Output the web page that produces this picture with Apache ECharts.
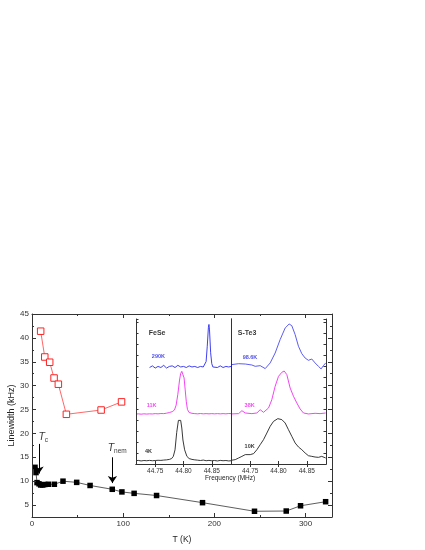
<!DOCTYPE html>
<html>
<head>
<meta charset="utf-8">
<script src="https://cdn.jsdelivr.net/npm/echarts@6/dist/echarts.min.js"></script>
<style>html,body{margin:0;padding:0;background:#fff}#c{width:425px;height:550px}</style>
</head>
<body>
<div id="c"></div>
<script>
// ---- main panel data ----
const blackT  = [3.3, 4.4, 5.5, 7.7, 9.5, 11.8, 14, 17.9, 24.5, 34, 49, 63.7, 88, 98.6, 112, 136.6, 187, 244, 278.8, 294.5, 322];
const blackLW = [12.9, 11.8, 9.7, 9.45, 9.2, 9.2, 9.3, 9.35, 9.35, 10.0, 9.75, 9.1, 8.3, 7.75, 7.45, 7.0, 5.5, 3.7, 3.75, 4.85, 5.7];
const redT    = [9.5, 14, 19.4, 24.2, 28.9, 37.7, 75.8, 98.2];
const redLW   = [41.4, 36.0, 34.9, 31.6, 30.3, 24.0, 24.9, 26.6];
const yMajor  = [5, 10, 15, 20, 25, 30, 35, 40, 45];
const yMinor  = [2.5, 7.5, 12.5, 17.5, 22.5, 27.5, 32.5, 37.5, 42.5];
const xTicks  = [0, 100, 200, 300];

// ---- inset spectra (frequency MHz, intensity arb.) ----
const fese290F = [44.740,44.745,44.750,44.755,44.760,44.765,44.770,44.775,44.780,44.785,44.790,44.795,44.800,44.805,44.810,44.815,44.820,44.825,44.830,44.835,44.838,44.840,44.842,44.844,44.845,44.846,44.848,44.850,44.852,44.855,44.860,44.865,44.870,44.875,44.880,44.884];
const fese290V = [8.85,9.0,8.8,8.95,8.85,9.05,8.8,8.95,9.0,8.85,9.05,8.9,8.95,8.85,9.0,8.9,8.95,8.85,8.95,8.9,9.0,9.4,10.8,12.5,12.8,12.3,10.2,9.2,8.9,8.95,8.85,9.0,8.85,8.95,8.9,8.95];
const fese11F  = [44.716,44.720,44.725,44.730,44.735,44.740,44.745,44.750,44.755,44.760,44.765,44.770,44.775,44.780,44.784,44.787,44.790,44.793,44.795,44.797,44.799,44.801,44.803,44.805,44.807,44.810,44.815,44.820,44.825,44.830,44.835,44.840,44.845,44.850,44.855,44.860,44.865,44.870,44.875,44.880,44.884];
const fese11V  = [4.58,4.6,4.57,4.6,4.58,4.6,4.59,4.62,4.6,4.63,4.62,4.66,4.72,4.8,4.95,5.4,6.4,7.7,8.3,8.5,8.45,7.9,6.8,5.7,5.0,4.72,4.65,4.62,4.6,4.63,4.6,4.62,4.6,4.62,4.6,4.62,4.6,4.62,4.6,4.63,4.62];
const fese4F   = [44.716,44.720,44.725,44.730,44.735,44.740,44.745,44.750,44.755,44.760,44.765,44.770,44.775,44.779,44.782,44.785,44.788,44.791,44.793,44.795,44.797,44.799,44.802,44.806,44.810,44.815,44.820,44.825,44.830,44.835,44.840,44.845,44.850,44.855,44.860,44.865,44.870,44.875,44.880,44.884];
const fese4V   = [0.3,0.33,0.28,0.32,0.3,0.33,0.3,0.32,0.34,0.33,0.36,0.38,0.42,0.5,0.7,1.3,2.9,4.0,4.16,4.0,3.3,2.2,1.3,0.7,0.5,0.42,0.38,0.35,0.32,0.36,0.3,0.33,0.3,0.32,0.28,0.33,0.3,0.32,0.28,0.3];

const ste98F = [44.7165,44.7294,44.7412,44.7529,44.7588,44.7676,44.7765,44.7853,44.7941,44.8029,44.8118,44.8188,44.8235,44.8294,44.8353,44.8412,44.8471,44.8529,44.8588,44.8647,44.8706,44.8753,44.8794,44.8835];
const ste98V = [9.11,9.2,9.17,9.08,8.96,9.02,8.75,9.27,10.18,11.41,12.48,12.84,12.69,11.87,10.8,10.12,9.72,9.51,9.63,9.27,8.96,8.72,9.02,9.27];
const ste38F = [44.7165,44.7294,44.7353,44.7412,44.7529,44.7618,44.7676,44.7735,44.7824,44.7882,44.7941,44.8000,44.8059,44.8100,44.8147,44.8206,44.8265,44.8324,44.8382,44.8441,44.8529,44.8647,44.8735,44.8835];
const ste38V = [4.59,4.62,4.89,4.68,4.62,4.68,4.98,4.74,5.14,5.9,7.13,8.04,8.41,8.53,8.2,6.97,6.21,5.6,5.05,4.68,4.59,4.65,4.62,4.68];
const ste10F = [44.7165,44.7235,44.7294,44.7353,44.7412,44.7441,44.7500,44.7559,44.7618,44.7676,44.7735,44.7794,44.7853,44.7912,44.7988,44.8059,44.8118,44.8176,44.8235,44.8294,44.8353,44.8412,44.8471,44.8529,44.8588,44.8647,44.8706,44.8765,44.8835];
const ste10V = [0.34,0.4,0.55,0.7,0.86,1.01,0.86,0.95,1.31,1.77,2.23,2.84,3.46,3.91,4.16,4.07,3.76,3.15,2.54,1.93,1.56,1.31,1.01,0.76,0.7,0.64,0.61,0.7,0.55];
const insetXTicks = [44.75, 44.80, 44.85];

// annotation texts (data coordinates)
const leftLabels  = [['FeSe', 44.7385, 12.0], ['290K', 44.744, 9.84], ['11K', 44.735, 5.41], ['4K', 44.732, 1.19]];
const rightLabels = [['S-Te3', 44.728, 12.0], ['98.6K', 44.7366, 9.75], ['38K', 44.740, 5.41], ['10K', 44.740, 1.59]];
const labelColors = ['#000', '#2222ee', '#ee22ee', '#000'];

const zip = (a, b) => a.map((v, i) => [v, b[i]]);
const chart = echarts.init(document.getElementById('c'), null, {renderer: 'canvas'});
const FONT = 'Liberation Sans, Arial, sans-serif';
const AX = '#333';

function tickAxis(extra) {
  return Object.assign({
    type: 'value', axisLine: {show: true, lineStyle: {color: AX, width: 1}},
    splitLine: {show: false}, axisLabel: {show: false}, z: 6
  }, extra);
}

const insetX = (gi, pos, showLabel) => tickAxis({
  gridIndex: gi, position: pos, min: 44.716, max: 44.884,
  axisTick: {show: true, inside: true, length: 3, customValues: insetXTicks, lineStyle: {color: AX}},
  axisLabel: showLabel ? {show: true, customValues: insetXTicks, formatter: v => v.toFixed(2),
    fontSize: 6.5, color: '#333', margin: 4, fontFamily: FONT} : {show: false}
});
const insetY = (gi, pos, ticks) => tickAxis({
  gridIndex: gi, position: pos, min: 0, max: 13.3, interval: 1,
  axisTick: {show: ticks, inside: true, length: 2.5, lineStyle: {color: AX}}
});

function labelSeries(xi, yi, list) {
  return {
    type: 'scatter', xAxisIndex: xi, yAxisIndex: yi, symbolSize: 0, silent: true, z: 5,
    data: list.map((l, i) => ({
      value: [l[1], l[2]], name: l[0],
      label: {show: true, position: 'inside', align: 'left', verticalAlign: 'middle',
        formatter: '{b}', fontWeight: 'bold', fontFamily: FONT,
        fontSize: i === 0 ? 7 : 5.5, color: labelColors[i]}
    }))
  };
}

const specLine = (xi, yi, f, v, color) => ({
  type: 'line', xAxisIndex: xi, yAxisIndex: yi, data: zip(f, v), showSymbol: false,
  symbol: 'none', lineStyle: {color: color, width: 0.9}, z: 4
});

const gridBase = {containLabel: false, outerBoundsMode: 'none'};

chart.setOption({
  animation: false,
  backgroundColor: '#fff',
  textStyle: {fontFamily: FONT},
  grid: [
    Object.assign({left: 32, top: 314, width: 300, height: 203}, gridBase),
    Object.assign({left: 136, top: 319, width: 95, height: 145, show: true, backgroundColor: '#fff', borderWidth: 0, z: 3}, gridBase),
    Object.assign({left: 231, top: 319, width: 95, height: 145, show: true, backgroundColor: '#fff', borderWidth: 0, z: 3}, gridBase)
  ],
  xAxis: [
    tickAxis({gridIndex: 0, position: 'bottom', min: 0, max: 329, interval: 100,
      axisTick: {show: true, inside: true, length: 4, lineStyle: {color: AX}},
      minorTick: {show: true, splitNumber: 2, length: 2, lineStyle: {color: AX}},
      axisLabel: {show: true, fontSize: 8, color: '#333', margin: 3, customValues: xTicks},
      name: 'T (K)', nameLocation: 'middle', nameGap: 18, nameMoveOverlap: false,
      nameTextStyle: {fontSize: 8.5, color: '#222'}}),
    tickAxis({gridIndex: 0, position: 'top', min: 0, max: 329, interval: 100, z: 1,
      axisTick: {show: true, inside: true, length: 4, lineStyle: {color: AX}},
      minorTick: {show: true, splitNumber: 2, length: 2, lineStyle: {color: AX}}}),
    insetX(1, 'bottom', true),
    insetX(1, 'top', false),
    insetX(2, 'bottom', true),
    insetX(2, 'top', false)
  ],
  yAxis: [
    tickAxis({gridIndex: 0, position: 'left', min: 2.5, max: 45,
      axisTick: {show: true, inside: true, length: 4, customValues: yMajor, lineStyle: {color: AX}},
      axisLabel: {show: true, customValues: yMajor, fontSize: 8, color: '#333', margin: 3},
      name: 'Linewidth (kHz)', nameLocation: 'middle', nameRotate: 90, nameGap: 16, nameMoveOverlap: false,
      nameTextStyle: {fontSize: 9, color: '#222'}}),
    tickAxis({gridIndex: 0, position: 'left', min: 2.5, max: 45, axisLine: {show: false},
      axisTick: {show: true, inside: true, length: 2, customValues: yMinor, lineStyle: {color: AX}}}),
    tickAxis({gridIndex: 0, position: 'right', min: 2.5, max: 45,
      axisTick: {show: true, inside: true, length: 4, customValues: yMajor, lineStyle: {color: AX}}}),
    tickAxis({gridIndex: 0, position: 'right', min: 2.5, max: 45, axisLine: {show: false},
      axisTick: {show: true, inside: true, length: 2, customValues: yMinor, lineStyle: {color: AX}}}),
    insetY(1, 'left', true),
    insetY(1, 'right', false),
    insetY(2, 'left', false),
    insetY(2, 'right', true)
  ],
  series: [
    {
      type: 'line', xAxisIndex: 0, yAxisIndex: 0, data: zip(redT, redLW),
      symbol: 'rect', symbolSize: 6.5, showSymbol: true,
      itemStyle: {color: '#fff', borderColor: '#ff2020', borderWidth: 1},
      lineStyle: {color: '#ff4040', width: 0.8}, z: 3
    },
    {
      type: 'line', xAxisIndex: 0, yAxisIndex: 0, data: zip(blackT, blackLW),
      symbol: 'rect', symbolSize: 5.5, showSymbol: true,
      itemStyle: {color: '#000'}, lineStyle: {color: '#333', width: 0.8}, z: 3,
      markLine: {
        silent: true, symbol: ['none', 'arrow'], symbolSize: 7,
        lineStyle: {color: '#000', type: 'solid', width: 1}, label: {show: false},
        data: [
          [{coord: [7.7, 17.8]}, {coord: [7.7, 11.6]}],
          [{coord: [88.2, 15.0]}, {coord: [88.2, 9.6]}]
        ]
      }
    },
    {
      type: 'scatter', xAxisIndex: 0, yAxisIndex: 0, symbolSize: 0, silent: true,
      data: [
        {value: [7.0, 19.2], name: 'c'},
        {value: [83.0, 17.0], name: 'nem'}
      ],
      label: {show: true, position: 'inside', align: 'left', verticalAlign: 'middle',
        formatter: p => '{t|T}{s|' + p.name + '}',
        rich: {t: {fontStyle: 'italic', fontSize: 10.5, color: '#000', fontFamily: FONT},
               s: {fontSize: 6.5, color: '#000', padding: [6, 0, 0, 0], fontFamily: FONT}}}
    },
    specLine(2, 4, fese290F, fese290V, '#2a2af0'),
    specLine(2, 4, fese11F, fese11V, '#f030f0'),
    specLine(2, 4, fese4F, fese4V, '#222'),
    specLine(4, 6, ste98F, ste98V, '#4a4af0'),
    specLine(4, 6, ste38F, ste38V, '#f030f0'),
    specLine(4, 6, ste10F, ste10V, '#222'),
    labelSeries(2, 4, leftLabels),
    labelSeries(4, 6, rightLabels)
  ],
  graphic: [{
    type: 'text', left: 205, top: 475, z: 10,
    style: {text: 'Frequency (MHz)', fontSize: 6.5, fill: '#222', fontFamily: FONT}
  }]
});
</script>
</body>
</html>
